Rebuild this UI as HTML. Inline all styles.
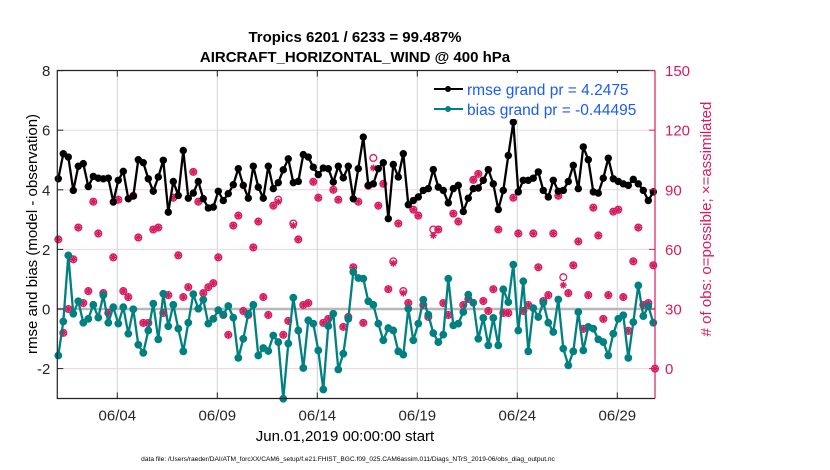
<!DOCTYPE html>
<html><head><meta charset="utf-8"><style>
html,body{margin:0;padding:0;background:#fff;}
svg{display:block;font-family:"Liberation Sans",Arial,sans-serif;}
</style></head><body>
<svg id="chart" width="830" height="470" viewBox="0 0 830 470">
<rect x="0" y="0" width="830" height="470" fill="#fff"/>
<g id="grid"></g>
<g id="obs"></g>
<g id="lines"></g>
<g id="axes"></g>
<text x="355" y="42" text-anchor="middle" font-size="15" font-weight="bold">Tropics 6201 / 6233 = 99.487%</text>
<text x="355" y="62" text-anchor="middle" font-size="15" font-weight="bold">AIRCRAFT_HORIZONTAL_WIND @ 400 hPa</text>
<text transform="translate(37,234) rotate(-90)" text-anchor="middle" font-size="15">rmse and bias (model - observation)</text>
<text transform="translate(711,219) rotate(-90)" text-anchor="middle" font-size="15" fill="#d81b60"># of obs: o=possible; ×=assimilated</text>
<text x="345" y="441" text-anchor="middle" font-size="15">Jun.01,2019 00:00:00 start</text>
<text x="348" y="461" text-anchor="middle" font-size="6.6">data file: /Users/raeder/DAI/ATM_forcXX/CAM6_setup/f.e21.FHIST_BGC.f09_025.CAM6assim.011/Diags_NTrS_2019-06/obs_diag_output.nc</text>
<g>
<rect x="420" y="73" width="232" height="46" fill="#fff"/>
<line x1="434" y1="89" x2="463" y2="89" stroke="#000" stroke-width="2"/>
<circle cx="448" cy="89" r="3" fill="#000"/>
<text x="467" y="95" font-size="15.5" fill="#1a5cf5">rmse grand pr = 4.2475</text>
<line x1="434" y1="109" x2="463" y2="109" stroke="#008080" stroke-width="2"/>
<circle cx="448" cy="109" r="3" fill="#008080"/>
<text x="467" y="115" font-size="15.5" fill="#1a5cf5">bias grand pr = -0.44495</text>
</g>
</svg>
<script>
const rmse = [4.37,5.21,5.10,3.98,4.79,4.88,4.11,4.45,4.39,4.37,4.39,3.59,4.32,4.62,3.70,3.79,5.01,4.91,4.37,3.95,4.43,4.99,3.25,4.28,3.81,5.32,3.72,3.89,4.28,3.70,3.39,
3.42,3.95,3.64,3.87,4.17,4.71,4.15,3.72,4.79,4.09,3.72,4.79,4.04,4.24,4.67,5.04,4.24,4.28,5.18,5.10,4.76,4.51,4.73,4.71,4.26,4.79,4.40,4.79,3.70,
4.71,5.77,4.15,4.20,4.71,4.91,3.03,4.85,4.43,5.21,3.50,3.64,3.76,3.98,4.04,4.68,4.09,3.98,3.56,4.04,4.15,3.27,3.72,4.04,4.06,4.32,4.68,4.20,3.34,
3.98,5.15,6.27,3.93,4.32,4.32,4.39,4.60,3.98,3.76,4.32,3.95,3.98,4.28,4.82,4.04,5.44,5.01,3.93,3.89,4.39,5.06,4.37,4.28,4.20,4.15,4.35,4.20,3.98,3.64,3.93];
const bias = [-1.56,-0.42,1.80,-0.16,0.26,-0.46,-0.33,0.14,-0.29,0.46,-0.46,0.06,-0.49,0.06,-0.83,-0.01,-1.20,-1.47,-0.72,0.18,-1.02,0.51,-0.58,0.14,-0.66,-1.42,-0.46,0.50,0.01,0.31,-0.49,
-0.33,-0.04,-0.19,0.10,-0.29,-1.64,-1.00,-0.16,0.14,-1.56,-1.31,-1.41,-0.89,-1.11,-3.01,-1.16,0.38,-0.72,-1.98,-0.38,-0.49,-1.39,-2.70,-0.57,-0.16,-2.03,-1.50,-0.33,1.24,
1.04,1.02,0.26,0.14,-0.49,-1.05,-0.64,-0.72,-1.42,-1.53,0.01,-1.05,-0.49,0.31,-0.19,-0.81,-1.11,-0.86,1.02,-0.55,-0.49,-0.10,0.48,0.21,-1.00,-0.30,-1.22,-0.30,-1.22,
0.66,0.23,1.49,-0.72,0.93,-1.42,0.03,-0.27,0.21,-0.46,-0.77,0.32,-1.33,-1.89,-1.42,-0.10,-1.39,-0.60,-0.66,-1.02,-1.11,-1.56,-0.83,-0.33,-0.21,-1.64,-0.44,0.79,-0.24,0.10,-0.46];
const obsPossible = [65,18,30,55,71,33,39,84,68,38,28,56,85,39,36,87,66,23,23,70,71,28,37,86,57,36,41,99,84,38,41,
43,56,27,17,72,77,29,27,61,74,36,27,82,85,17,24,73,65,32,33,94,86,23,25,90,85,21,26,51,
84,23,92,106,82,93,40,54,73,39,33,80,77,32,26,70,70,33,27,78,74,32,35,95,98,34,29,40,70,
28,28,86,68,29,32,68,51,34,37,68,87,46,38,52,64,20,37,81,67,25,37,79,80,36,19,54,71,32,33,52,0];
const obsAssim = [65,18,30,55,71,33,39,84,68,38,28,56,85,39,36,87,66,23,23,70,71,28,37,86,57,36,41,99,84,38,41,
43,56,27,17,72,77,29,27,61,74,36,27,82,84,17,24,72,65,32,33,94,86,23,25,90,85,21,26,51,
84,23,92,101,82,93,40,53,73,38,33,80,77,32,26,67,70,33,27,78,74,32,35,95,98,34,29,40,70,
28,28,86,68,29,32,68,51,34,37,68,87,42,38,52,64,20,37,81,67,25,37,79,80,36,19,54,71,32,33,52,0];
const dayTicks = [3,8,13,18,23,28];
const dayTickLabels = ["06/04","06/09","06/14","06/19","06/24","06/29"];
const leftTicks = [8,6,4,2,0,-2];
const rightTicks = [150,120,90,60,30,0];

const NS="http://www.w3.org/2000/svg";
const X0=57.3, XR=655, YT=70.5, YB=398.5;
function xDay(d){return X0+d*20;}
function xIdx(i){return Math.min(xDay(i*0.25+0.05),XR);}
function yL(v){return 309-v*29.8;}
function yR(r){return 368.6-r*1.987;}
function mk(tag,attrs,parent){const e=document.createElementNS(NS,tag);for(const k in attrs)e.setAttribute(k,attrs[k]);parent.appendChild(e);return e;}

const grid=document.getElementById('grid');
dayTicks.forEach((d,i)=>{
  const l=mk('line',{x1:xDay(d),x2:xDay(d),y1:YT,y2:YB,stroke:'#d0d0d0','stroke-width':1},grid);
  
  
});
leftTicks.forEach(v=>{
  if(v===0||v===8)return;
  const l=mk('line',{x1:X0,x2:XR,y1:yL(v),y2:yL(v),stroke:'#f5d0de','stroke-width':1},grid);
  
  
});
const zl=mk('line',{x1:X0,x2:XR,y1:yL(0),y2:yL(0),stroke:'#b8b8b8','stroke-width':2.5},grid);



const obs=document.getElementById('obs');
const pink='#d81b60';
obsPossible.forEach((r,i)=>{
  const x=xIdx(i), y=yR(r);
  const c=mk('circle',{cx:x,cy:y,r:3.4,fill:'none',stroke:pink,'stroke-width':1.3},obs);
  
  
});
obsAssim.forEach((r,i)=>{
  const x=xIdx(i), y=yR(r), s=3.5;
  const g=mk('g',{stroke:pink,'stroke-width':1.4},obs);
  
  
  mk('line',{x1:x-s,x2:x+s,y1:y,y2:y},g);
  mk('line',{x1:x,x2:x,y1:y-s,y2:y+s},g);
  mk('line',{x1:x-s*0.7,x2:x+s*0.7,y1:y-s*0.7,y2:y+s*0.7},g);
  mk('line',{x1:x-s*0.7,x2:x+s*0.7,y1:y+s*0.7,y2:y-s*0.7},g);
});

const lines=document.getElementById('lines');
function series(vals,color,name,r){
  const pts=vals.map((v,i)=>xIdx(i).toFixed(1)+','+yL(v).toFixed(1)).join(' ');
  const pl=mk('polyline',{points:pts,fill:'none',stroke:color,'stroke-width':2.3,'stroke-linejoin':'round'},lines);
  
  
  vals.forEach((v,i)=>{
    const c=mk('circle',{cx:xIdx(i),cy:yL(v),r:r,fill:color},lines);
    
    
  });
}
series(bias,'#008080','bias',3.9);
series(rmse,'#000000','rmse',3.7);

const axes=document.getElementById('axes');
const fr=mk('path',{d:`M${XR},${YT} L${X0},${YT} L${X0},${YB} L${XR},${YB}`,fill:'none',stroke:'#222','stroke-width':1.2},axes);


const ra=mk('line',{x1:XR,x2:XR,y1:YT,y2:YB,stroke:pink,'stroke-width':1.2},axes);


dayTicks.forEach((d,i)=>{
  mk('line',{x1:xDay(d),x2:xDay(d),y1:YB,y2:YB-6,stroke:'#222'},axes);
  mk('line',{x1:xDay(d),x2:xDay(d),y1:YT,y2:YT+6,stroke:'#222'},axes);
  const t=mk('text',{x:xDay(d),y:YB+22,'text-anchor':'middle','font-size':15,fill:'#262626'},axes);
  t.textContent=dayTickLabels[i];
  
  
});
leftTicks.forEach(v=>{
  mk('line',{x1:X0,x2:X0+6,y1:yL(v),y2:yL(v),stroke:'#222'},axes);
  const t=mk('text',{x:X0-7,y:yL(v)+5.5,'text-anchor':'end','font-size':15,fill:'#262626'},axes);
  t.textContent=String(v);
  
  
});
rightTicks.forEach(r=>{
  mk('line',{x1:XR,x2:XR-6,y1:yR(r),y2:yR(r),stroke:pink},axes);
  const t=mk('text',{x:XR+10,y:yR(r)+5.5,'text-anchor':'start','font-size':15,fill:pink},axes);
  t.textContent=String(r);
  
  
});
</script>
</body></html>
